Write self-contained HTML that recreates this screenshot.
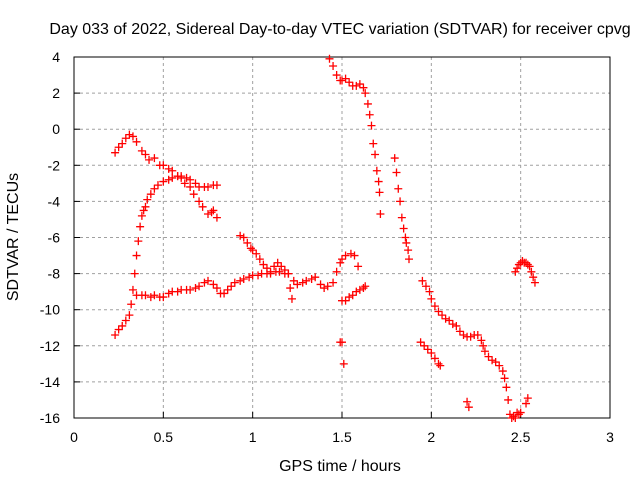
<!DOCTYPE html>
<html><head><meta charset="utf-8"><style>
body{margin:0;background:#fff}
svg{display:block;font-family:"Liberation Sans",sans-serif}
</style></head><body>
<svg id="c" width="640" height="480">
<text x="340" y="34" font-size="16" text-anchor="middle">Day 033 of 2022, Sidereal Day-to-day VTEC variation (SDTVAR) for receiver cpvg</text>
<text x="340" y="471" font-size="16" text-anchor="middle">GPS time / hours</text>
<text transform="translate(18,237) rotate(-90)" font-size="16" text-anchor="middle">SDTVAR / TECUs</text>
<g id="grid"></g><g id="axes"></g><g id="pts"></g>
</svg>
<script>
const xTicks=[0,0.5,1,1.5,2,2.5,3];
const xTickLabels=["0","0.5","1","1.5","2","2.5","3"];
const yTicks=[4,2,0,-2,-4,-6,-8,-10,-12,-14,-16];
const segAx=[0.23,0.25,0.27,0.29,0.31,0.33,0.35,0.38,0.4,0.42,0.45,0.48,0.5,0.53,0.55,0.58,0.6,0.62,0.65,0.67,0.7,0.72,0.75,0.77,0.78,0.8];
const segAy=[-1.3,-1.0,-0.8,-0.5,-0.3,-0.4,-0.7,-1.2,-1.4,-1.7,-1.6,-2.0,-2.0,-2.2,-2.3,-2.6,-2.7,-3.0,-3.2,-3.6,-4.0,-4.3,-4.7,-4.6,-4.5,-4.9];
const segBx=[0.23,0.25,0.27,0.29,0.31,0.32,0.33,0.34,0.35,0.36,0.37,0.38,0.39,0.4,0.41,0.43,0.45,0.47,0.5,0.53,0.55,0.58,0.6,0.63,0.65,0.68,0.7,0.73,0.75,0.78,0.8];
const segBy=[-11.4,-11.1,-10.9,-10.6,-10.3,-9.7,-8.9,-8.0,-7.0,-6.2,-5.4,-4.8,-4.5,-4.3,-3.9,-3.6,-3.3,-3.1,-2.9,-2.8,-2.7,-2.6,-2.6,-2.7,-2.8,-3.0,-3.2,-3.2,-3.2,-3.1,-3.1];
const segCx=[0.35,0.38,0.4,0.43,0.45,0.48,0.5,0.53,0.55,0.58,0.6,0.63,0.65,0.68,0.7,0.73,0.75,0.78,0.8,0.82,0.84,0.86,0.88,0.9,0.93,0.95,0.98,1.0,1.03,1.05,1.08,1.1,1.13,1.15,1.18,1.2,1.23,1.25,1.28,1.3,1.33,1.35,1.38,1.4,1.42,1.45,1.47,1.49,1.5,1.52,1.55,1.57,1.59];
const segCy=[-9.2,-9.2,-9.2,-9.3,-9.2,-9.3,-9.3,-9.1,-9.0,-9.0,-8.9,-8.9,-8.9,-8.8,-8.7,-8.5,-8.4,-8.6,-8.8,-9.1,-9.1,-8.9,-8.7,-8.5,-8.4,-8.3,-8.2,-8.1,-8.1,-8.0,-8.0,-8.0,-7.9,-7.9,-8.0,-8.0,-8.4,-8.6,-8.5,-8.4,-8.3,-8.2,-8.6,-8.8,-8.7,-8.5,-7.9,-7.4,-7.2,-7.0,-6.9,-7.0,-7.6];
const segDx=[0.93,0.95,0.97,0.99,1.0,1.02,1.04,1.06,1.08,1.1,1.12,1.14,1.16,1.18,1.2,1.21,1.22];
const segDy=[-5.9,-6.0,-6.3,-6.6,-6.7,-6.9,-7.2,-7.5,-7.7,-7.9,-7.6,-7.4,-7.6,-7.8,-8.0,-8.8,-9.4];
const segEx=[1.49,1.5,1.51,1.5,1.52,1.54,1.56,1.58,1.6,1.62,1.63];
const segEy=[-11.8,-11.8,-13.0,-9.5,-9.5,-9.3,-9.2,-9.0,-8.9,-8.8,-8.7];
const segFx=[1.43,1.45,1.47,1.49,1.5,1.52,1.54,1.56,1.58,1.6,1.62,1.63,1.645,1.655,1.665,1.675,1.685,1.695,1.705,1.71,1.715];
const segFy=[3.9,3.5,3.0,2.7,2.7,2.8,2.6,2.4,2.4,2.5,2.3,2.0,1.4,0.8,0.2,-0.8,-1.4,-2.3,-2.9,-3.5,-4.7];
const segGx=[1.795,1.805,1.815,1.825,1.835,1.845,1.855,1.86,1.87,1.875];
const segGy=[-1.6,-2.4,-3.3,-4.0,-4.9,-5.5,-6.0,-6.3,-6.7,-7.2];
const segHx=[1.95,1.97,1.99,2.0,2.02,2.04,2.06,2.08,2.1,2.12,2.14,2.16,2.18,2.2,2.22,2.24,2.26,2.28,2.29,2.3,2.32,2.34,2.36,2.38,2.4,2.41,2.42,2.43,2.44,2.45,2.46,2.47,2.48,2.49,2.5];
const segHy=[-8.4,-8.7,-9.0,-9.4,-9.8,-10.1,-10.3,-10.5,-10.6,-10.8,-10.9,-11.2,-11.4,-11.5,-11.5,-11.4,-11.4,-11.7,-12.0,-12.3,-12.6,-12.8,-12.9,-13.1,-13.4,-13.8,-14.3,-15.0,-15.8,-16.0,-15.9,-16.0,-15.7,-15.8,-15.7];
const segIx=[1.94,1.96,1.98,2.0,2.02,2.04,2.05,2.2,2.21,2.53,2.54];
const segIy=[-11.8,-12.0,-12.2,-12.4,-12.7,-13.0,-13.1,-15.1,-15.4,-15.2,-14.9];
const segKx=[2.47,2.48,2.49,2.5,2.51,2.52,2.53,2.54,2.55,2.56,2.57,2.58];
const segKy=[-7.9,-7.7,-7.5,-7.4,-7.3,-7.4,-7.4,-7.5,-7.6,-7.9,-8.2,-8.5];
const L=74,R=610,T=57,B=418;
const X=v=>L+(v-0)/3*(R-L);
const Y=v=>T+(4-v)/20*(B-T);
const NS="http://www.w3.org/2000/svg";
function mk(t,a,p){const e=document.createElementNS(NS,t);for(const k in a)e.setAttribute(k,a[k]);p.appendChild(e);return e;}
const g=document.getElementById('grid'),ax=document.getElementById('axes'),pts=document.getElementById('pts');
xTicks.forEach((v,i)=>{
 if(i>0&&i<xTicks.length-1){const l=mk('line',{x1:X(v),x2:X(v),y1:T,y2:B,stroke:'#a0a0a0','stroke-dasharray':'3,3'},g);
 
 }
 const tk=mk('line',{x1:X(v),x2:X(v),y1:B,y2:B-6,stroke:'#000'},ax);
 
 
 const t=mk('text',{x:X(v),y:B+24,'font-size':14,'text-anchor':'middle'},ax);t.textContent=xTickLabels[i];
 
 
});
yTicks.forEach(v=>{
 if(v<4&&v>-16){const l=mk('line',{x1:L,x2:R,y1:Y(v),y2:Y(v),stroke:'#a0a0a0','stroke-dasharray':'3,3'},g);
 
 }
 const tk=mk('line',{x1:L,x2:L+6,y1:Y(v),y2:Y(v),stroke:'#000'},ax);
 
 
 const t=mk('text',{x:L-14,y:Y(v)+5,'font-size':14,'text-anchor':'end'},ax);t.textContent=String(v);
 
 
});
const fr=mk('rect',{x:L,y:T,width:R-L,height:B-T,fill:'none',stroke:'#000'},ax);


const segs=[[segAx,segAy],[segBx,segBy],[segCx,segCy],[segDx,segDy],[segEx,segEy],[segFx,segFy],[segGx,segGy],[segHx,segHy],[segIx,segIy],[segKx,segKy]];
segs.forEach(([xs,ys])=>{xs.forEach((xv,i)=>{
 const px=X(xv),py=Y(ys[i]);
 const p=mk('path',{d:`M${px-4},${py}H${px+4}M${px},${py-4}V${py+4}`,stroke:'#ff0000','stroke-width':1.3},pts);
 
 
});});
</script>
</body></html>
